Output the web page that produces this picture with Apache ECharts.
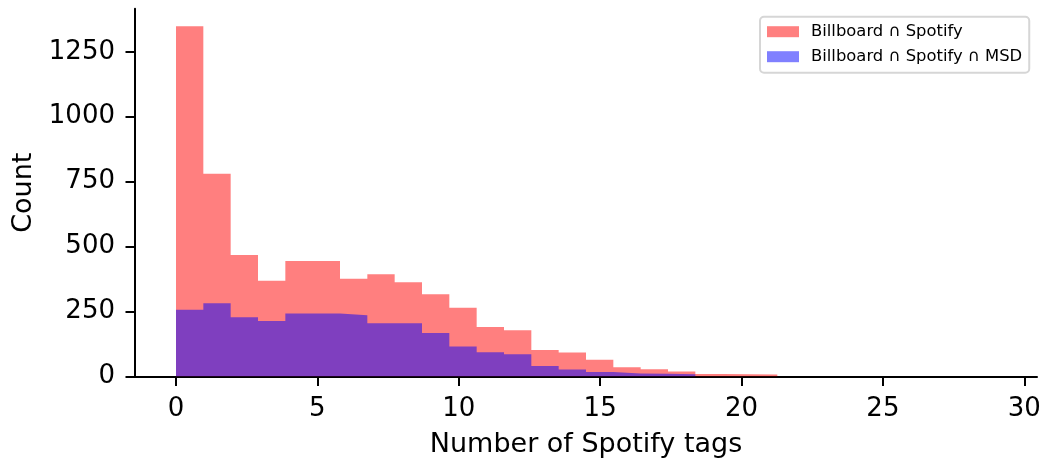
<!DOCTYPE html>
<html>
<head>
<meta charset="utf-8">
<script src="https://cdn.jsdelivr.net/npm/echarts@6/dist/echarts.min.js"></script>
<style>
  html, body { margin: 0; padding: 0; background: #fff; }
  #chart { width: 1044px; height: 461px; }
</style>
</head>
<body>
<div id="chart"></div>
<script>
// Histogram bins: 30 equal bins spanning 0..29 Spotify tags
const binMin = 0;
const binMax = 29;
const binCount = 30;

const seriesNames = ['Billboard ∩ Spotify', 'Billboard ∩ Spotify ∩ MSD'];

// Counts per bin
const countsBillboardSpotify = [1348, 781, 468, 369, 445, 445, 377, 394, 363, 317,
                                265, 191, 178, 102, 93, 65, 36, 28, 20, 10,
                                9, 8, 0, 0, 0, 0, 0, 0, 0, 1];
const countsBillboardSpotifyMSD = [257, 282, 228, 214, 243, 243, 236, 205, 205, 168,
                                   116, 94, 86, 41, 27, 18, 12, 11, 9, 0,
                                   0, 0, 0, 0, 0, 0, 0, 0, 0, 0];

const xTicks = [0, 5, 10, 15, 20, 25, 30];
const yTicks = [0, 250, 500, 750, 1000, 1250];

const xAxisLabel = 'Number of Spotify tags';
const yAxisLabel = 'Count';

// ---- build step outlines from the bin counts ----
const binWidth = (binMax - binMin) / binCount;
function stepPoints(counts) {
  const pts = counts.map((c, i) => [binMin + i * binWidth, c]);
  pts.push([binMax, counts[counts.length - 1]]);
  return pts;
}
const xPad = (binMax - binMin) * 0.05;
const yTop = Math.max(...countsBillboardSpotify) * 1.05;

const FONT = 'DejaVu Sans';
const chart = echarts.init(document.getElementById('chart'), null, { renderer: 'canvas' });

const axisCommon = {
  axisLine: { show: true, onZero: false, lineStyle: { color: '#000', width: 2 } },
  axisTick: { show: true, inside: false, length: 9.5, lineStyle: { color: '#000', width: 2 } },
  splitLine: { show: false },
  nameTextStyle: { fontFamily: FONT, fontSize: 27, color: '#000' }
};

chart.setOption({
  animation: false,
  backgroundColor: '#ffffff',
  grid: { left: 135, right: 7, top: 8.8, bottom: 84.4, containLabel: false, outerBoundsMode: 'none' },
  legend: {
    orient: 'vertical',
    left: 760,
    top: 16.7,
    padding: [7, 7, 8, 7],
    itemWidth: 32,
    itemHeight: 11,
    itemGap: 9,
    backgroundColor: '#ffffff',
    borderColor: '#d6d6d6',
    borderWidth: 2,
    borderRadius: 4,
    textStyle: { fontFamily: FONT, fontSize: 16.4, lineHeight: 16, color: '#000', padding: [0, 0, 0, 7] },
    data: [
      { name: seriesNames[0], icon: 'rect', itemStyle: { color: '#ff8080', opacity: 1, borderWidth: 0 } },
      { name: seriesNames[1], icon: 'rect', itemStyle: { color: '#8080ff', opacity: 1, borderWidth: 0 } }
    ]
  },
  xAxis: Object.assign({}, axisCommon, {
    type: 'value',
    min: binMin - xPad,
    max: binMax + xPad,
    name: xAxisLabel,
    nameLocation: 'middle',
    nameGap: 55,
    axisTick: Object.assign({}, axisCommon.axisTick, { customValues: xTicks }),
    axisLabel: { customValues: xTicks, margin: 20, fontFamily: FONT, fontSize: 26, color: '#000',
                 formatter: v => String(v) }
  }),
  yAxis: Object.assign({}, axisCommon, {
    type: 'value',
    min: 0,
    max: yTop,
    name: yAxisLabel,
    nameLocation: 'middle',
    nameGap: 98,
    axisTick: Object.assign({}, axisCommon.axisTick, { customValues: yTicks }),
    axisLabel: { customValues: yTicks, margin: 20, fontFamily: FONT, fontSize: 26, color: '#000',
                 padding: [4, 0, 0, 0], formatter: v => String(v) }
  }),
  series: [
    {
      name: seriesNames[0],
      type: 'line',
      step: 'end',
      data: stepPoints(countsBillboardSpotify),
      showSymbol: false,
      symbol: 'none',
      itemStyle: { color: '#ff8080' },
      lineStyle: { width: 0, opacity: 0 },
      areaStyle: { color: 'rgba(255,0,0,0.5)', opacity: 1 },
      silent: true
    },
    {
      name: seriesNames[1],
      type: 'line',
      step: 'end',
      data: stepPoints(countsBillboardSpotifyMSD),
      showSymbol: false,
      symbol: 'none',
      itemStyle: { color: '#8080ff' },
      lineStyle: { width: 0, opacity: 0 },
      areaStyle: { color: 'rgba(0,0,255,0.5)', opacity: 1 },
      silent: true
    }
  ]
});
</script>
</body>
</html>
